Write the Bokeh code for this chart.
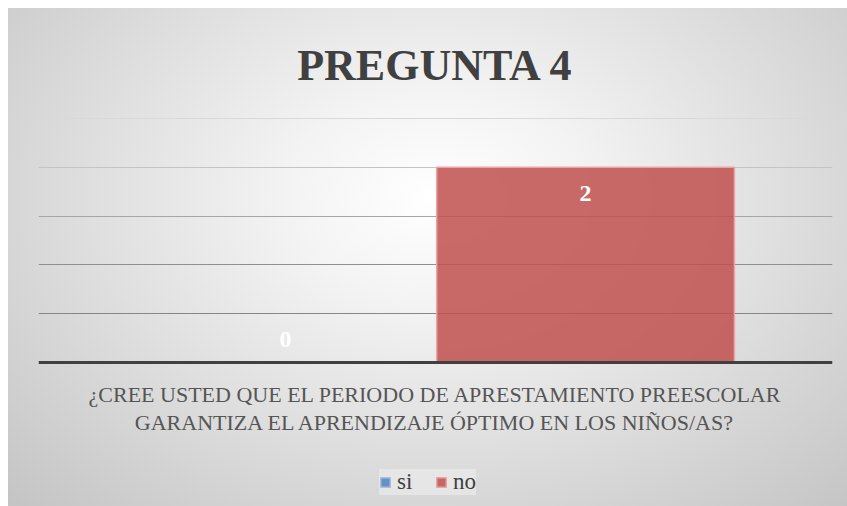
from bokeh.plotting import figure
from bokeh.models import (FactorRange, Range1d, ColumnDataSource, LabelSet,
                          Legend, LegendItem, Grid, FixedTicker, Span)
from bokeh.transform import dodge
from bokeh.core.properties import value
from bokeh.embed import file_html
from bokeh.resources import INLINE

# ---- data ----
title_text = "PREGUNTA 4"
categories = ["¿CREE USTED QUE EL PERIODO DE APRESTAMIENTO PREESCOLAR\nGARANTIZA EL APRENDIZAJE ÓPTIMO EN LOS NIÑOS/AS?"]
series_names = ["si", "no"]
si_values = [0]
no_values = [2]
y_grid_ticks = [0.5, 1.0, 1.5, 2.0, 2.5]

# ---- styles ----
SERIF = "Liberation Serif"
series_colors = {"si": "#4f81bd", "no": "#c0504d"}
series_edges = {"si": "#a7c0e0", "no": "#e9a6a4"}
grid_colors = ["#868686", "#8f8f8f", "#a6a6a6", "#c4c4c4", "#d9d9d9"]
bar_width = 0.375
offsets = {"si": -0.189, "no": 0.189}

# value axis: 0 at 249px below frame top, frame 393px tall
px_per_unit = 249 / 2.55
y_start = -(393 - 249) / px_per_unit

p = figure(frame_width=794, frame_height=393,
           x_range=FactorRange(factors=categories, range_padding=0),
           y_range=Range1d(y_start, 2.55),
           output_backend="svg", toolbar_location=None,
           x_axis_location=None, y_axis_location=None,
           min_border_left=30, min_border_right=15,
           min_border_top=105, min_border_bottom=0,
           border_fill_color=None, background_fill_color=None,
           outline_line_color=None,
           margin=(8, 0, 0, 8),
           styles={"background": "radial-gradient(ellipse farthest-corner at 51% 38%, #ffffff 0%, #f3f3f3 25%, #c4c4c4 100%)"})

p.xgrid.visible = False
p.ygrid.visible = False

for t, c in zip(y_grid_ticks, grid_colors):
    g = Grid(dimension=1, ticker=FixedTicker(ticks=[t]), grid_line_color=c,
             grid_line_width=1)
    p.add_layout(g)

# title
p.title.text = title_text
p.title.align = "center"
p.title.text_font = SERIF
p.title.text_font_size = "44px"
p.title.text_font_style = "bold"
p.title.text_color = "#404040"
p.title.standoff = 48

items = []
for name, vals in zip(series_names, [si_values, no_values]):
    src = ColumnDataSource(dict(cat=categories, val=vals,
                                txt=[str(v) for v in vals],
                                off=[-26 if v > 0 else 23 for v in vals]))
    r = p.vbar(x=dodge("cat", offsets[name], range=p.x_range), top="val",
               width=bar_width, bottom=0, source=src,
               fill_color=series_colors[name], fill_alpha=0.85,
               line_color=series_edges[name], line_width=1.5)
    items.append(LegendItem(label=name, renderers=[r]))
    lbl = LabelSet(x=dodge("cat", offsets[name], range=p.x_range), y="val",
                   text="txt", y_offset="off", source=src,
                   text_font=value(SERIF), text_font_size="24px",
                   text_font_style="bold", text_color="white",
                   text_align="center", text_baseline="middle")
    p.add_layout(lbl)

# category axis baseline and (centred, two-line) category label
p.add_layout(Span(location=0, dimension="width", line_color="#404040", line_width=3))
cat_lines = categories[0].split("\n")
cat_src = ColumnDataSource(dict(cat=[categories[0]] * len(cat_lines), txt=cat_lines,
                                off=[-19 - 28 * i for i in range(len(cat_lines))]))
p.add_layout(LabelSet(x="cat", y=value(0), y_offset="off", text="txt", source=cat_src,
                      text_font=value(SERIF), text_font_size="22px",
                      text_color="#555555", text_align="center",
                      text_baseline="top"))

legend = Legend(items=items, orientation="horizontal", location=(341, 11),
                label_text_font=SERIF, label_text_font_size="23px",
                label_text_color="#404040", label_height=24, label_standoff=6,
                glyph_width=12, glyph_height=12, spacing=18,
                padding=10, margin=0,
                background_fill_color="#ebebeb", background_fill_alpha=0.7,
                border_line_color=None)
p.add_layout(legend)

open("out.html", "w").write(file_html(p, INLINE))
